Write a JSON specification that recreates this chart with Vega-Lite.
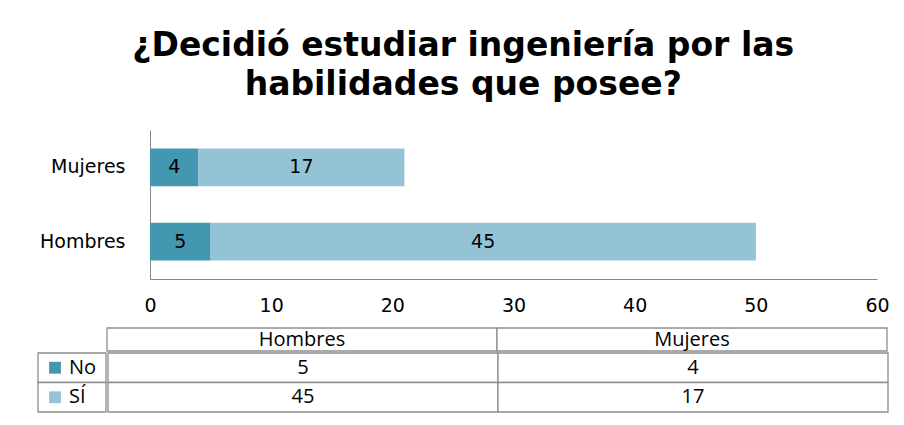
{
  "$schema": "https://vega.github.io/schema/vega-lite/v6.json",
  "background": "white",
  "padding": {"left": 37, "top": 30, "right": 10, "bottom": 5},
  "title": {
    "text": ["¿Decidió estudiar ingeniería por las", "habilidades que posee?"],
    "font": "DejaVu Sans",
    "fontSize": 33,
    "fontWeight": "bold",
    "lineHeight": 39,
    "color": "black",
    "anchor": "middle",
    "offset": 28
  },
  "datasets": {
    "d": [
      {"genero": "Hombres", "respuesta": "No", "valor": 5},
      {"genero": "Hombres", "respuesta": "SÍ", "valor": 45},
      {"genero": "Mujeres", "respuesta": "No", "valor": 4},
      {"genero": "Mujeres", "respuesta": "SÍ", "valor": 17}
    ]
  },
  "spacing": 12,
  "vconcat": [
    {
      "spacing": 0,
      "hconcat": [
        {
          "width": 1,
          "height": 149,
          "data": {"values": []},
          "mark": {"type": "rect", "opacity": 0}
        },
        {
          "width": 727,
          "height": 149,
          "data": {"name": "d"},
          "transform": [
            {"stack": "valor", "groupby": ["genero"], "sort": [{"field": "respuesta", "order": "ascending"}], "as": ["v0", "v1"]}
          ],
          "encoding": {
            "y": {
              "field": "genero",
              "type": "nominal",
              "sort": ["Mujeres", "Hombres"],
              "scale": {"paddingInner": 0.493, "paddingOuter": 0.247},
              "axis": {
                "title": null,
                "ticks": false,
                "domainColor": "#868686",
                "labelFont": "DejaVu Sans",
                "labelFontSize": 19,
                "labelColor": "black",
                "labelPadding": 25
              }
            }
          },
          "layer": [
            {
              "mark": {"type": "bar"},
              "encoding": {
                "x": {
                  "field": "v0",
                  "type": "quantitative",
                  "scale": {"domain": [0, 60]},
                  "axis": {
                    "title": null,
                    "values": [0, 10, 20, 30, 40, 50, 60],
                    "grid": false,
                    "ticks": false,
                    "domainColor": "#868686",
                    "labelFont": "DejaVu Sans",
                    "labelFontSize": 19,
                    "labelColor": "black",
                    "labelPadding": 17,
                    "labelFlush": false
                  }
                },
                "x2": {"field": "v1"},
                "color": {
                  "field": "respuesta",
                  "type": "nominal",
                  "scale": {"domain": ["No", "SÍ"], "range": ["#4397B0", "#93C3D5"]},
                  "legend": null
                }
              }
            },
            {
              "transform": [
                {"fold": ["v0", "v1"], "as": ["k", "pos"]},
                {"aggregate": [{"op": "mean", "field": "pos", "as": "mid"}, {"op": "max", "field": "valor", "as": "valor"}], "groupby": ["genero", "respuesta"]}
              ],
              "mark": {"type": "text", "font": "DejaVu Sans", "fontSize": 19, "color": "black", "baseline": "middle"},
              "encoding": {
                "x": {"field": "mid", "type": "quantitative"},
                "text": {"field": "valor"}
              }
            }
          ]
        }
      ]
    },
    {
      "spacing": 0,
      "vconcat": [
        {
          "spacing": 0,
          "hconcat": [
            {
              "width": 68,
              "height": 23,
              "data": {"values": []},
              "mark": {"type": "rect", "opacity": 0}
            },
            {
              "width": 780,
              "height": 23,
              "data": {"name": "d"},
              "transform": [{"filter": "datum.respuesta == 'No'"}],
              "encoding": {
                "x": {"field": "genero", "type": "nominal", "sort": ["Hombres", "Mujeres"], "scale": {"paddingInner": 0, "paddingOuter": 0}, "axis": null}
              },
              "layer": [
                {"mark": {"type": "rect", "fill": "white", "stroke": "#8e8e8e", "strokeWidth": 1.3}},
                {"mark": {"type": "text", "font": "Open Sans", "fontSize": 20, "color": "black"}, "encoding": {"text": {"field": "genero"}}}
              ]
            }
          ]
        },
        {
          "spacing": 0,
          "hconcat": [
            {
              "width": 68,
              "height": 59,
              "data": {"name": "d"},
              "transform": [{"filter": "datum.genero == 'Hombres'"}],
              "encoding": {
                "y": {"field": "respuesta", "type": "nominal", "sort": ["No", "SÍ"], "scale": {"paddingInner": 0, "paddingOuter": 0}, "axis": null}
              },
              "layer": [
                {"mark": {"type": "rect", "fill": "white", "stroke": "#8e8e8e", "strokeWidth": 1.3}},
                {
                  "mark": {"type": "point", "shape": "square", "filled": true, "size": 140, "opacity": 1, "xOffset": -17},
                  "encoding": {"color": {"field": "respuesta", "type": "nominal", "legend": null}}
                },
                {
                  "mark": {"type": "text", "align": "left", "dx": -3, "font": "Open Sans", "fontSize": 20, "color": "black"},
                  "encoding": {"text": {"field": "respuesta"}}
                }
              ]
            },
            {
              "width": 780,
              "height": 59,
              "data": {"name": "d"},
              "encoding": {
                "x": {"field": "genero", "type": "nominal", "sort": ["Hombres", "Mujeres"], "scale": {"paddingInner": 0, "paddingOuter": 0}, "axis": null},
                "y": {"field": "respuesta", "type": "nominal", "sort": ["No", "SÍ"], "scale": {"paddingInner": 0, "paddingOuter": 0}, "axis": null}
              },
              "layer": [
                {"mark": {"type": "rect", "fill": "white", "stroke": "#8e8e8e", "strokeWidth": 1.3}},
                {"mark": {"type": "text", "font": "Open Sans", "fontSize": 20, "color": "black"}, "encoding": {"text": {"field": "valor"}}}
              ]
            }
          ]
        }
      ]
    }
  ],
  "config": {"view": {"stroke": null}}
}
